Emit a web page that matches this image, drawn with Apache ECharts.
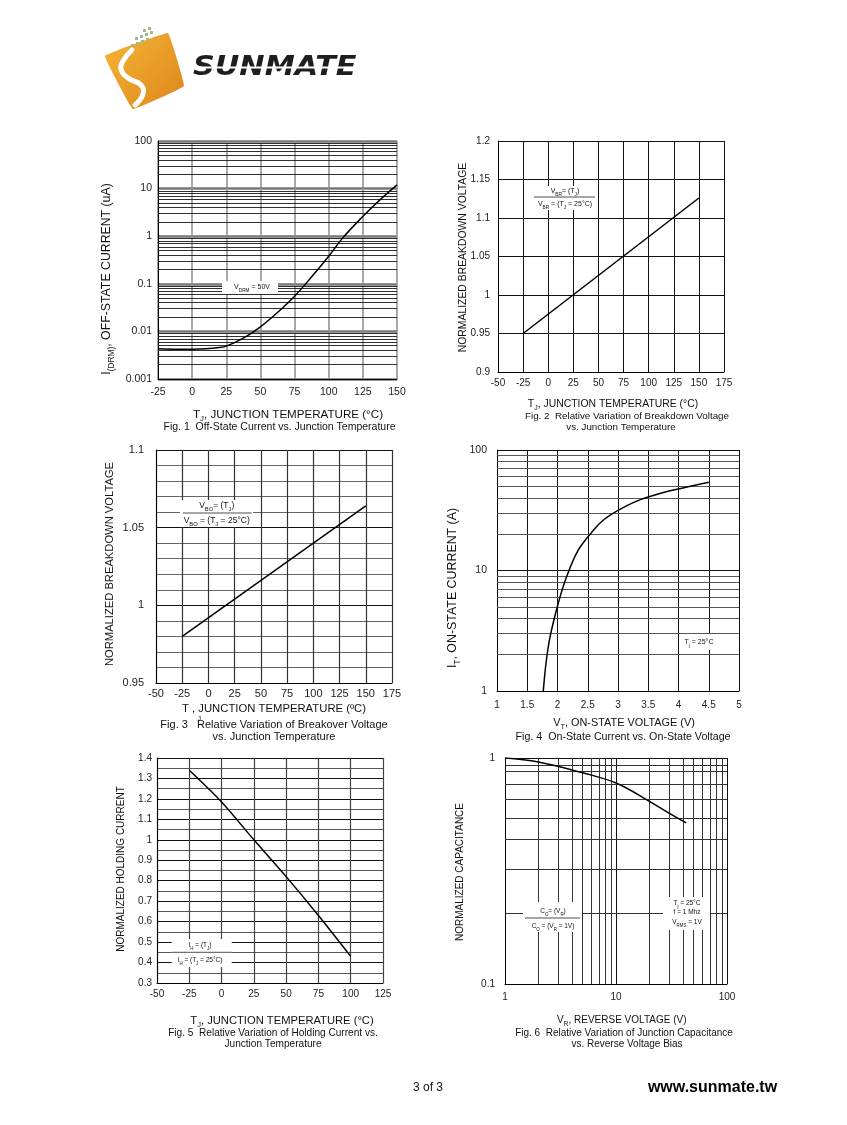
<!DOCTYPE html>
<html>
<head>
<meta charset="utf-8">
<script src="https://cdn.jsdelivr.net/npm/echarts@6/dist/echarts.min.js"></script>
<style>
html,body{margin:0;padding:0;background:#fff;}
#c{width:847px;height:1125px;}
</style>
</head>
<body>
<div id="c"></div>
<script>
// ---------- DATA ----------
// Fig.1 Off-state current vs junction temperature
const fig1Temp = [-25, -10, 0, 10, 20, 25, 37.5, 50, 62.5, 75, 87.5, 100, 110, 125, 137.5, 150];
const fig1Current = [0.0043, 0.0042, 0.0042, 0.0043, 0.0046, 0.0049, 0.0072, 0.0125, 0.025, 0.055, 0.14, 0.38, 0.9, 2.6, 5.8, 12];
const fig1YLabels = ['0.001', '0.01', '0.1', '1', '10', '100'];

// Fig.2 Breakdown voltage vs temperature
const fig2Temp = [-25, 150];
const fig2Volt = [0.95, 1.126];

// Fig.3 Breakover voltage vs temperature
const fig3Temp = [-25, 150];
const fig3Volt = [0.98, 1.064];

// Fig.4 On-state current vs on-state voltage
const fig4Volt = [1.765, 1.81, 1.876, 2.013, 2.152, 2.344, 2.59, 2.75, 3.0, 3.3, 3.69, 4.0, 4.5];
const fig4Current = [1, 1.7, 2.8, 5.35, 8.9, 14.8, 21.5, 26, 31.5, 37.5, 43.5, 47.5, 54];
const fig4YLabels = ['1', '10', '100'];

// Fig.5 Holding current vs temperature
const fig5Temp = [-25, 0, 25, 50, 75, 100];
const fig5Hold = [1.34, 1.185, 1.0, 0.82, 0.63, 0.43];

// Fig.6 Junction capacitance vs reverse voltage
const fig6Volt = [1, 2, 5, 10, 20, 30, 43];
const fig6Cap = [1.0, 0.96, 0.86, 0.775, 0.643, 0.57, 0.516];
const fig6XLabels = ['1', '10', '100'];
const fig6YLabels = ['0.1', '1'];
const fig6HGrid = [0.206, 0.321, 0.435, 0.539, 0.654, 0.762, 0.873, 0.928];

// ---------- HELPERS ----------
const FONT = 'Liberation Sans, Arial, Helvetica, sans-serif';
const zip = (a, b) => a.map((v, i) => [v, b[i]]);
function logMinor(e0, e1) {
  const out = [];
  for (let e = e0; e < e1; e++) for (let m = 2; m <= 9; m++) out.push(+(m * Math.pow(10, e)).toPrecision(6));
  return out;
}
// minor grid lines drawn as a 'lines' series on the grid's own axes
function gridSeries(idx, xr, yr, horiz, vert, color, width) {
  const data = [];
  horiz.forEach(v => data.push({ coords: [[xr[0], v], [xr[1], v]] }));
  vert.forEach(v => data.push({ coords: [[v, yr[0]], [v, yr[1]]] }));
  return {
    type: 'lines', coordinateSystem: 'cartesian2d', xAxisIndex: idx, yAxisIndex: idx, z: 1, silent: true,
    polyline: false, lineStyle: { color: color, width: width, opacity: 1, curveness: 0 }, data: data
  };
}
function curve(idx, x, y, smooth) {
  return { type: 'line', xAxisIndex: idx, yAxisIndex: idx, data: zip(x, y), smooth: smooth, showSymbol: false,
    lineStyle: { color: '#000', width: 1.5 }, z: 5, silent: true };
}
const axLine = { show: true, onZero: false, lineStyle: { color: '#000', width: 1 } };
function valAxis(idx, min, max, interval, opts) {
  return Object.assign({
    type: 'value', gridIndex: idx, min: min, max: max, interval: interval,
    axisLine: axLine, axisTick: { show: false },
    axisLabel: { fontFamily: FONT, fontSize: 10, color: '#222', margin: 6 },
    splitLine: { show: true, lineStyle: { color: '#111', width: 1 } }
  }, opts || {});
}
function logAxis(idx, min, max, labels, e0, opts) {
  return Object.assign({
    type: 'log', logBase: 10, gridIndex: idx, min: min, max: max,
    axisLine: axLine, axisTick: { show: false },
    axisLabel: { fontFamily: FONT, fontSize: 10, color: '#222', margin: 6,
      formatter: v => labels[Math.round(Math.log10(v)) - e0] },
    splitLine: { show: true, lineStyle: { color: '#111', width: 1 } }
  }, opts || {});
}
function rich(size) {
  return {
    n: { fontFamily: FONT, fontSize: size, color: '#111', lineHeight: size + 5, verticalAlign: 'middle' },
    s: { fontFamily: FONT, fontSize: Math.max(4, size * 0.68), color: '#111', verticalAlign: 'bottom', lineHeight: size + 5 }
  };
}
function txt(x, y, text, size, opt) {
  opt = opt || {};
  return {
    type: 'text', x: x, y: y, rotation: opt.rot || 0, z: 100,
    style: { text: text, rich: rich(size), fontFamily: FONT, fontSize: size, fontWeight: opt.bold ? 'bold' : 'normal',
      fill: opt.fill || '#111', align: opt.align || 'center', verticalAlign: 'middle',
      textAlign: opt.align || 'center', textVerticalAlign: 'middle' }
  };
}
function box(x1, y1, x2, y2) {
  return { type: 'rect', z: 90, shape: { x: x1, y: y1, width: x2 - x1, height: y2 - y1 }, style: { fill: '#fff' } };
}
function hline(x1, x2, y) {
  return { type: 'line', z: 95, shape: { x1: x1, y1: y, x2: x2, y2: y }, style: { stroke: '#222', lineWidth: 0.8 } };
}

// ---------- GRAPHICS (logo, labels, annotations) ----------
const graphics = [];
// logo
graphics.push({ type: 'polygon', z: 50, shape: { points: [[105, 56], [168, 33], [184, 86], [133, 109]], smooth: 0.05 },
  style: { fill: new echarts.graphic.LinearGradient(0, 0, 1, 1, [{ offset: 0, color: '#f6b534' }, { offset: 1, color: '#dc861c' }]) } });
graphics.push({ type: 'polyline', z: 51, shape: { points: [[132, 50], [123, 61], [121, 69], [128, 78], [141, 85], [143, 94], [135, 105]], smooth: 0.5 },
  style: { stroke: '#fff', lineWidth: 5, fill: null, lineCap: 'round' } });
[[131, 44], [136, 42], [141, 40], [146, 38], [135, 37], [140, 35], [145, 33], [150, 31], [143, 29], [148, 27]].forEach(p => {
  graphics.push({ type: 'rect', z: 52, shape: { x: p[0], y: p[1], width: 3, height: 3 }, style: { fill: '#a3b98a' } });
});
graphics.push({ type: 'text', z: 60, x: 193, y: 68, scaleX: 1.12,
  style: { text: 'SUNMATE', fontFamily: 'DejaVu Sans', fontWeight: 'bold', fontStyle: 'italic', fontSize: 27, fill: '#1e1e1e',
    align: 'left', verticalAlign: 'middle', textAlign: 'left', textVerticalAlign: 'middle' } });
graphics.push({ type: 'rect', z: 61, shape: { x: 190, y: 66.5, width: 180, height: 2 }, style: { fill: '#fff' } });

// Fig 1
graphics.push(txt(107, 279, '{n|I}{s|(DRM)}{n|, OFF-STATE CURRENT (uA)}', 12.3, { rot: Math.PI / 2 }));
graphics.push(txt(288, 415, '{n|T}{s|J}{n|, JUNCTION TEMPERATURE (°C)}', 11.6));
graphics.push(txt(279.5, 427, 'Fig. 1  Off-State Current vs. Junction Temperature', 10.5));
graphics.push(box(222, 281, 278, 294));
graphics.push(txt(252, 287.5, '{n|V}{s|DRM}{n| = 50V}', 7));

// Fig 2
graphics.push(txt(462.7, 257.5, 'NORMALIZED BREAKDOWN VOLTAGE', 10.4, { rot: Math.PI / 2 }));
graphics.push(txt(613, 404, '{n|T}{s|J}{n|, JUNCTION TEMPERATURE (°C)}', 10.4));
graphics.push(txt(627, 416, 'Fig. 2  Relative Variation of Breakdown Voltage', 9.8));
graphics.push(txt(621, 427, 'vs. Junction Temperature', 9.8));
graphics.push(box(533, 186, 597, 210));
graphics.push(txt(565, 191, '{n|V}{s|BR}{n|= (T}{s|J}{n|)}', 7));
graphics.push(hline(534, 595, 197));
graphics.push(txt(565, 204, '{n|V}{s|BR}{n| = (T}{s|J}{n| = 25°C)}', 7));

// Fig 3
graphics.push(txt(110, 564, 'NORMALIZED BREAKDOWN VOLTAGE', 11.2, { rot: Math.PI / 2 }));
graphics.push(txt(274, 709, 'T , JUNCTION TEMPERATURE (ºC)', 11.3));
graphics.push(txt(274, 725, 'Fig. 3   Relative Variation of Breakover Voltage', 11));
graphics.push(txt(199.3, 719.5, 'J', 7));
graphics.push(txt(274, 737, 'vs. Junction Temperature', 11));
graphics.push(box(180, 500, 253, 527));
graphics.push(txt(216.7, 506, '{n|V}{s|BO}{n|= (T}{s|J}{n|)}', 8.5));
graphics.push(hline(182.7, 251.7, 513));
graphics.push(txt(216.7, 521, '{n|V}{s|BO}{n| = (T}{s|J}{n| = 25°C)}', 8.5));

// Fig 4
graphics.push(txt(453, 588, '{n|I}{s|T}{n|, ON-STATE CURRENT (A)}', 12.4, { rot: Math.PI / 2 }));
graphics.push(txt(624, 723, '{n|V}{s|T}{n|, ON-STATE VOLTAGE (V)}', 10.9));
graphics.push(txt(623, 737, 'Fig. 4  On-State Current vs. On-State Voltage', 10.7));
graphics.push(box(681, 634, 718, 650));
graphics.push(txt(699, 642, '{n|T}{s|j}{n| = 25°C}', 7));

// Fig 5
graphics.push(txt(121.7, 869, 'NORMALIZED HOLDING CURRENT', 10, { rot: Math.PI / 2 }));
graphics.push(txt(282, 1021, '{n|T}{s|J}{n|, JUNCTION TEMPERATURE (°C)}', 11.2));
graphics.push(txt(273, 1033, 'Fig. 5  Relative Variation of Holding Current vs.', 10.1));
graphics.push(txt(273, 1044, 'Junction Temperature', 10.1));
graphics.push(box(171.7, 939, 231.7, 967));
graphics.push(txt(200, 945, '{n|I}{s|H}{n| = (T}{s|J}{n|)}', 6.5));
graphics.push(hline(171.7, 231.7, 952.3));
graphics.push(txt(200, 960, '{n|I}{s|H}{n| = (T}{s|J}{n| = 25°C)}', 6.5));

// Fig 6
graphics.push(txt(460, 872, 'NORMALIZED CAPACITANCE', 10, { rot: Math.PI / 2 }));
graphics.push(txt(621.7, 1020, '{n|V}{s|R}{n|, REVERSE VOLTAGE (V)}', 10));
graphics.push(txt(624, 1033, 'Fig. 6  Relative Variation of Junction Capacitance', 10));
graphics.push(txt(627, 1044, 'vs. Reverse Voltage Bias', 10));
graphics.push(box(523, 902, 582, 932));
graphics.push(txt(553, 911, '{n|C}{s|O}{n|= (V}{s|R}{n|)}', 6.5));
graphics.push(hline(525, 580, 918));
graphics.push(txt(553, 926, '{n|C}{s|O}{n| = (V}{s|R}{n| = 1V)}', 6.5));
graphics.push(box(663, 897, 710, 930));
graphics.push(txt(687, 903.3, '{n|T}{s|j}{n| = 25°C}', 6.5));
graphics.push(txt(687, 912.7, 'f = 1 Mhz', 6.5));
graphics.push(txt(687, 922.3, '{n|V}{s|RMS}{n| = 1V}', 6.5));

// footer
graphics.push(txt(428, 1088, '3 of 3', 12));
graphics.push(txt(712.5, 1088, 'www.sunmate.tw', 16, { bold: true, fill: '#000' }));

// ---------- OPTION ----------
const option = {
  animation: false,
  backgroundColor: '#fff',
  grid: [
    { left: 158, top: 141, width: 239, height: 238 },
    { left: 498, top: 141, width: 226, height: 231 },
    { left: 156, top: 450, width: 236, height: 233 },
    { left: 497, top: 450, width: 242, height: 241 },
    { left: 157, top: 758, width: 226, height: 225 },
    { left: 505, top: 758, width: 222, height: 226 }
  ],
  xAxis: [
    valAxis(0, -25, 150, 25, { axisLabel: { fontFamily: FONT, fontSize: 10.5, color: '#222', margin: 8 },
      splitLine: { show: true, lineStyle: { color: '#8c8c8c', width: 1.5 } } }),
    valAxis(1, -50, 175, 25, { axisLabel: { fontFamily: FONT, fontSize: 10, color: '#222', margin: 6 } }),
    valAxis(2, -50, 175, 25, { axisLabel: { fontFamily: FONT, fontSize: 11, color: '#222', margin: 5 },
      splitLine: { show: true, lineStyle: { color: '#333', width: 1.2 } } }),
    valAxis(3, 1, 5, 0.5, { axisLabel: { fontFamily: FONT, fontSize: 10, color: '#222', margin: 9 } }),
    valAxis(4, -50, 125, 25, { axisLabel: { fontFamily: FONT, fontSize: 10, color: '#222', margin: 6 },
      splitLine: { show: true, lineStyle: { color: '#444', width: 1.2 } } }),
    logAxis(5, 1, 100, fig6XLabels, 0, { splitNumber: 2, axisLabel: { fontFamily: FONT, fontSize: 10, color: '#222', margin: 8,
      formatter: v => fig6XLabels[Math.round(Math.log10(v))] } })
  ],
  yAxis: [
    logAxis(0, 0.001, 100, fig1YLabels, -3, { splitNumber: 5, axisLabel: { fontFamily: FONT, fontSize: 10.5, color: '#222', margin: 6,
      formatter: v => fig1YLabels[Math.round(Math.log10(v)) + 3] },
      splitLine: { show: true, lineStyle: { color: '#777', width: 2.5 } } }),
    valAxis(1, 0.9, 1.2, 0.05, { axisLabel: { fontFamily: FONT, fontSize: 10, color: '#222', margin: 8 } }),
    valAxis(2, 0.95, 1.1, 0.05, { axisLabel: { fontFamily: FONT, fontSize: 11, color: '#222', margin: 12 },
      minorTick: { show: false, splitNumber: 5 }, minorSplitLine: { show: true, lineStyle: { color: '#666', width: 1 } } }),
    logAxis(3, 1, 100, fig4YLabels, 0, { splitNumber: 2, axisLabel: { fontFamily: FONT, fontSize: 10.5, color: '#222', margin: 10,
      formatter: v => fig4YLabels[Math.round(Math.log10(v))] } }),
    valAxis(4, 0.3, 1.4, 0.1, { axisLabel: { fontFamily: FONT, fontSize: 10, color: '#222', margin: 5 },
      minorTick: { show: false, splitNumber: 2 }, minorSplitLine: { show: true, lineStyle: { color: '#555', width: 1 } } }),
    logAxis(5, 0.1, 1, fig6YLabels, -1, { splitNumber: 1, axisLabel: { fontFamily: FONT, fontSize: 10, color: '#222', margin: 10,
      formatter: v => fig6YLabels[Math.round(Math.log10(v)) + 1] } })
  ],
  series: [
    gridSeries(0, [-25, 150], [0.001, 100], logMinor(-3, 2), [], '#1a1a1a', 0.9),
    curve(0, fig1Temp, fig1Current, 0.4),
    curve(1, fig2Temp, fig2Volt, false),
    curve(2, fig3Temp, fig3Volt, false),
    gridSeries(3, [1, 5], [1, 100], logMinor(0, 2), [], '#555', 1),
    curve(3, fig4Volt, fig4Current, 0.35),
    curve(4, fig5Temp, fig5Hold, 0.3),
    gridSeries(5, [1, 100], [0.1, 1], fig6HGrid, logMinor(0, 2), '#333', 1),
    curve(5, fig6Volt, fig6Cap, 0.4)
  ],
  graphic: graphics
};
const chart = echarts.init(document.getElementById('c'), null, { renderer: 'canvas' });
chart.setOption(option);
</script>
</body>
</html>
